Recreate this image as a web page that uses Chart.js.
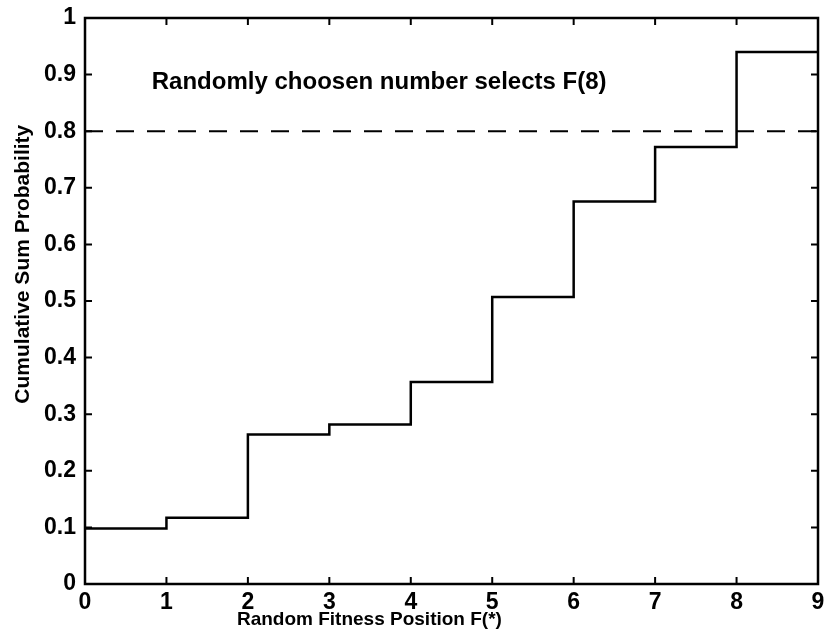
<!DOCTYPE html>
<html>
<head>
<meta charset="utf-8">
<script src="https://cdn.jsdelivr.net/npm/chart.js@4"></script>
<style>
  html, body { margin: 0; padding: 0; background: #ffffff; overflow: hidden; width: 825px; height: 639px; }
  canvas { display: block; }
</style>
</head>
<body>
<canvas id="stairs" width="840" height="639"></canvas>
<script>
// position de fitness et probabilite cumulee
const positions = [0, 1, 2, 3, 4, 5, 6, 7, 8];
const cumProb = [0.098, 0.117, 0.264, 0.282, 0.357, 0.507, 0.676, 0.772, 0.94];
const xEnd = 9;
const seuil = 0.8;
const yTickLabels = ['0', '0.1', '0.2', '0.3', '0.4', '0.5', '0.6', '0.7', '0.8', '0.9', '1'];
const xTickLabels = ['0', '1', '2', '3', '4', '5', '6', '7', '8', '9'];
const note = 'Randomly choosen number selects F(8)';
const noteAt = { x: 0.82, y: 0.887 };
const xTitle = 'Random Fitness Position F(*)';
const yTitle = 'Cumulative Sum Probability';

const police = 'Liberation Sans, Arial, Helvetica, sans-serif';

// escalier facon stairs() : le dernier niveau va jusqu'a xEnd
const stairsPts = positions.map((p, i) => ({ x: p, y: cumProb[i] }));
stairsPts.push({ x: xEnd, y: cumProb[cumProb.length - 1] });

const cadre = {
    id: 'cadre',
    afterDatasetsDraw(chart) {
        const ctx = chart.ctx;
        const a = chart.chartArea;
        const xs = chart.scales.x;
        const ys = chart.scales.y;
        const tl = 7;
        ctx.save();
        ctx.strokeStyle = '#000';
        ctx.lineWidth = 2.5;
        ctx.strokeRect(a.left, a.top, a.right - a.left, a.bottom - a.top);

        // petits traits vers l'interieur
        ctx.lineWidth = 2;
        ctx.beginPath();
        xs.ticks.forEach(t => {
            const px = xs.getPixelForValue(t.value);
            ctx.moveTo(px, a.bottom); ctx.lineTo(px, a.bottom - tl);
            ctx.moveTo(px, a.top); ctx.lineTo(px, a.top + tl);
        });
        ys.ticks.forEach(t => {
            const py = ys.getPixelForValue(t.value);
            ctx.moveTo(a.left, py); ctx.lineTo(a.left + tl, py);
            ctx.moveTo(a.right, py); ctx.lineTo(a.right - tl, py);
        });
        ctx.stroke();

        // texte dans le graphique
        ctx.fillStyle = '#000';
        ctx.font = 'bold 24px ' + police;
        ctx.textAlign = 'left';
        ctx.textBaseline = 'middle';
        ctx.fillText(note, xs.getPixelForValue(noteAt.x), ys.getPixelForValue(noteAt.y));

        // titres des axes
        ctx.font = 'bold 19px ' + police;
        ctx.textAlign = 'center';
        ctx.fillText(xTitle, a.left + 0.388 * (a.right - a.left), a.bottom + 36);

        ctx.font = 'bold 21px ' + police;
        ctx.translate(23, a.top + 0.435 * (a.bottom - a.top));
        ctx.rotate(-Math.PI / 2);
        ctx.fillText(yTitle, 0, 0);
        ctx.restore();
    }
};

const ctx = document.getElementById('stairs').getContext('2d');

const config = {
    type: 'line',
    data: {
        datasets: [{
            label: 'Cumulative sum',
            data: stairsPts,
            stepped: 'before',
            borderColor: '#000',
            borderWidth: 2.5,
            pointRadius: 0,
            fill: false,
        }, {
            label: 'Seuil',
            data: [{ x: 0, y: seuil }, { x: xEnd, y: seuil }],
            borderColor: '#000',
            borderWidth: 2,
            borderDash: [18, 13],
            pointRadius: 0,
            fill: false,
        }]
    },
    options: {
        responsive: false,
        animation: false,
        devicePixelRatio: 1,
        layout: { padding: { left: 35, right: 22, top: 18, bottom: 15 } },
        scales: {
            x: {
                type: 'linear',
                min: 0,
                max: xEnd,
                grid: { display: false },
                border: { display: false },
                ticks: {
                    stepSize: 1,
                    padding: -3,
                    color: '#000',
                    font: { family: police, size: 23, weight: 'bold' },
                    maxRotation: 0,
                    callback: (v, i) => xTickLabels[i]
                },
                afterFit: s => { s.height = 40; }
            },
            y: {
                min: 0,
                max: 1,
                grid: { display: false },
                border: { display: false },
                ticks: {
                    stepSize: 0.1,
                    padding: 1,
                    color: '#000',
                    font: { family: police, size: 23, weight: 'bold' },
                    callback: (v, i) => yTickLabels[i]
                },
                afterFit: s => { s.width = 50; }
            }
        },
        plugins: {
            legend: { display: false },
            tooltip: { enabled: false }
        }
    },
    plugins: [cadre]
};

new Chart(ctx, config);
</script>
</body>
</html>
